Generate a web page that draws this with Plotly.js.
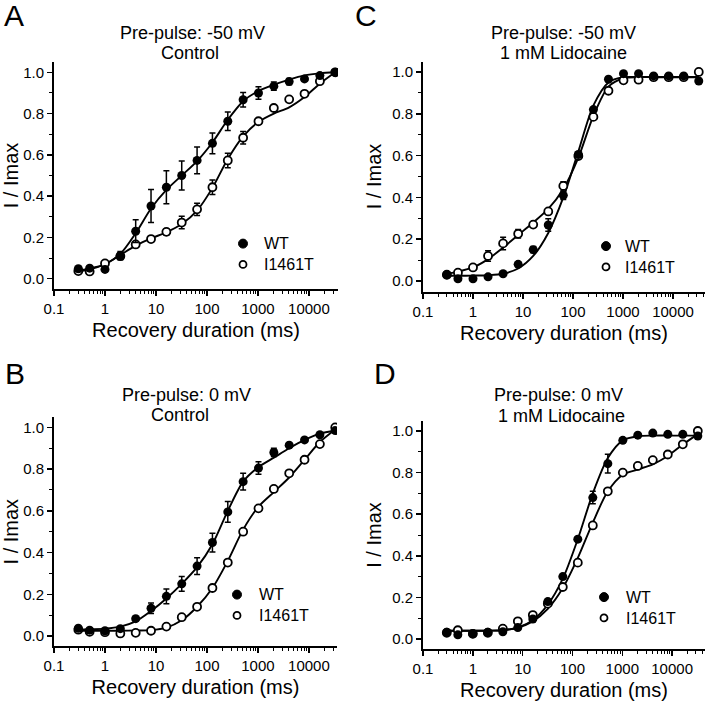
<!DOCTYPE html>
<html>
<head>
<meta charset="utf-8">
<script src="https://cdn.plot.ly/plotly-3.0.1.min.js"></script>
<style>
  html, body { margin: 0; padding: 0; background: #fff; }
  #chart { width: 709px; height: 702px; }
</style>
</head>
<body>
<div id="chart"></div>
<script>
// recovery durations (ms), same for every panel
var durations = [0.3, 0.5, 1, 2, 4, 8, 16, 32, 64, 128, 256, 512, 1024, 2048, 4096, 8192, 16384, 32768];

// A: pre-pulse -50 mV, control
var aWT      = [0.048, 0.051, 0.045, 0.112, 0.23, 0.352, 0.443, 0.50, 0.573, 0.656, 0.763, 0.867, 0.90, 0.933, 0.955, 0.968, 0.984, 1.0];
var aWTerr   = [0, 0, 0.01, 0.02, 0.055, 0.08, 0.08, 0.07, 0.065, 0.05, 0.045, 0.035, 0.03, 0.02, 0.015, 0.01, 0, 0];
var aMut     = [0.037, 0.035, 0.074, 0.109, 0.166, 0.192, 0.227, 0.272, 0.336, 0.443, 0.573, 0.683, 0.763, 0.827, 0.869, 0.896, 0.957, 1.0];
var aMuterr  = [0, 0, 0, 0.015, 0.01, 0.015, 0.015, 0.03, 0.03, 0.035, 0.035, 0.03, 0.012, 0, 0, 0, 0, 0];
var aWTfit   = [0.04, 0.05, 0.07, 0.12, 0.22, 0.34, 0.43, 0.50, 0.57, 0.66, 0.77, 0.86, 0.91, 0.94, 0.965, 0.985, 0.995, 1.0];
var aMutfit  = [0.035, 0.045, 0.07, 0.115, 0.16, 0.195, 0.225, 0.265, 0.33, 0.44, 0.58, 0.69, 0.76, 0.80, 0.83, 0.88, 0.945, 1.0];

// C: pre-pulse -50 mV, 1 mM lidocaine
var cWT      = [0.03, 0.011, 0.011, 0.02, 0.035, 0.08, 0.15, 0.268, 0.41, 0.605, 0.82, 0.965, 0.992, 0.992, 0.981, 0.981, 0.981, 0.957];
var cWTerr   = [0, 0, 0, 0, 0, 0, 0.015, 0.03, 0.02, 0.01, 0.01, 0, 0, 0, 0, 0, 0, 0];
var cMut     = [0.03, 0.04, 0.065, 0.12, 0.18, 0.226, 0.27, 0.333, 0.455, 0.598, 0.785, 0.91, 0.96, 0.963, 0.975, 0.975, 0.975, 1.0];
var cMuterr  = [0, 0, 0, 0.025, 0.03, 0.02, 0.01, 0.01, 0.02, 0.01, 0.01, 0, 0, 0, 0, 0, 0, 0];
var cWTfit   = [0.025, 0.025, 0.026, 0.028, 0.035, 0.06, 0.12, 0.23, 0.40, 0.62, 0.84, 0.95, 0.975, 0.976, 0.976, 0.976, 0.976, 0.976];
var cMutfit  = [0.035, 0.045, 0.065, 0.105, 0.16, 0.22, 0.28, 0.345, 0.44, 0.59, 0.79, 0.93, 0.97, 0.975, 0.975, 0.975, 0.975, 0.975];

// B: pre-pulse 0 mV, control
var bWT      = [0.037, 0.028, 0.025, 0.035, 0.083, 0.133, 0.19, 0.25, 0.335, 0.448, 0.595, 0.74, 0.805, 0.88, 0.915, 0.94, 0.965, 0.985];
var bWTerr   = [0, 0, 0, 0, 0.01, 0.025, 0.035, 0.035, 0.04, 0.045, 0.05, 0.04, 0.03, 0.02, 0.01, 0.01, 0, 0];
var bMut     = [0.03, 0.02, 0.018, 0.012, 0.015, 0.025, 0.045, 0.09, 0.14, 0.23, 0.352, 0.50, 0.612, 0.705, 0.78, 0.845, 0.92, 1.0];
var bMuterr  = [0, 0, 0, 0, 0, 0, 0, 0, 0, 0, 0.01, 0.01, 0.01, 0, 0, 0, 0, 0];
var bWTfit   = [0.03, 0.032, 0.035, 0.045, 0.07, 0.12, 0.18, 0.25, 0.33, 0.44, 0.60, 0.74, 0.81, 0.855, 0.90, 0.94, 0.97, 0.985];
var bMutfit  = [0.025, 0.025, 0.025, 0.025, 0.026, 0.028, 0.04, 0.075, 0.14, 0.23, 0.36, 0.51, 0.62, 0.69, 0.76, 0.845, 0.93, 0.99];

// D: pre-pulse 0 mV, 1 mM lidocaine
var dWT      = [0.032, 0.02, 0.025, 0.032, 0.035, 0.055, 0.096, 0.18, 0.30, 0.48, 0.68, 0.843, 0.955, 0.98, 0.99, 0.984, 0.984, 0.976];
var dWTerr   = [0, 0, 0, 0, 0, 0, 0, 0.01, 0.01, 0.01, 0.03, 0.045, 0, 0, 0, 0, 0, 0];
var dMut     = [0.03, 0.042, 0.025, 0.03, 0.05, 0.085, 0.115, 0.17, 0.25, 0.367, 0.546, 0.71, 0.80, 0.832, 0.86, 0.887, 0.936, 1.0];
var dMuterr  = [0, 0, 0, 0, 0, 0, 0, 0, 0, 0, 0, 0, 0, 0, 0, 0, 0, 0];
var dWTfit   = [0.04, 0.04, 0.04, 0.04, 0.042, 0.055, 0.09, 0.165, 0.29, 0.48, 0.70, 0.87, 0.955, 0.975, 0.978, 0.978, 0.978, 0.978];
var dMutfit  = [0.04, 0.04, 0.04, 0.04, 0.042, 0.055, 0.085, 0.145, 0.245, 0.39, 0.56, 0.71, 0.79, 0.815, 0.84, 0.88, 0.935, 0.985];

var xTickVals = [0.1, 1, 10, 100, 1000, 10000];
var xTickText = ['0.1', '1', '10', '100', '1000', '10000'];
var seriesNames = ['WT', 'I1461T'];
var panelLetters = ['A', 'C', 'B', 'D'];
var titleLine1 = ['Pre-pulse: -50 mV', 'Pre-pulse: -50 mV', 'Pre-pulse: 0 mV', 'Pre-pulse: 0 mV'];
var titleLine2 = ['Control', '1 mM Lidocaine', 'Control', '1 mM Lidocaine'];

var panels = [
  {wt: aWT, wtErr: aWTerr, mut: aMut, mutErr: aMuterr, wtFit: aWTfit, mutFit: aMutfit},
  {wt: cWT, wtErr: cWTerr, mut: cMut, mutErr: cMuterr, wtFit: cWTfit, mutFit: cMutfit},
  {wt: bWT, wtErr: bWTerr, mut: bMut, mutErr: bMuterr, wtFit: bWTfit, mutFit: bMutfit},
  {wt: dWT, wtErr: dWTerr, mut: dMut, mutErr: dMuterr, wtFit: dWTfit, mutFit: dMutfit}
];

var W = 709, H = 702;
function px(x) { return x / W; }
function py(y) { return 1 - y / H; }

// pixel boxes of the four plot areas: [left, right, top, bottom]
var boxes = [[54, 338, 62, 289], [423, 705, 61.5, 291.5], [54, 337, 417, 646.4], [423, 705, 420.6, 649.4]];
var xMax = [4.57, 4.64, 4.55, 4.66];
// legend: [symbol x, text x, middle y]
var legendPos = [[243, 262, 254], [606, 623, 256.5], [237, 257, 605], [604, 624, 607.5]];
var legendSize = 16;
var rowGap = legendSize * 1.3;
var letterPos = [[14, 15], [366, 16], [15, 374], [385, 374]];
var title1Pos = [[192, 33], [563, 33], [186, 395], [558, 395]];
var title2Pos = [[190, 53], [563, 53], [180, 415], [561, 416]];

var font = 'Liberation Sans, Arial, sans-serif';
var traces = [];
var layout = {
  width: W, height: H,
  margin: {l: 0, r: 0, t: 0, b: 0},
  paper_bgcolor: '#fff', plot_bgcolor: '#fff',
  font: {family: font, color: '#000', size: 15},
  showlegend: false,
  annotations: [],
  shapes: []
};

function note(text, x, y, size, anchor) {
  return {text: text, x: px(x), y: py(y), xref: 'paper', yref: 'paper', showarrow: false,
          xanchor: anchor || 'center', yanchor: 'middle', align: 'left', font: {size: size}};
}

panels.forEach(function (p, i) {
  var n = i === 0 ? '' : String(i + 1);
  var xa = 'x' + n, ya = 'y' + n;
  var fitLine = {color: '#000', width: 1.9, shape: 'spline', smoothing: 0.8};

  traces.push({x: durations, y: p.mutFit, xaxis: xa, yaxis: ya, mode: 'lines', line: fitLine, hoverinfo: 'skip'});
  traces.push({x: durations, y: p.wtFit, xaxis: xa, yaxis: ya, mode: 'lines', line: fitLine, hoverinfo: 'skip'});
  traces.push({
    x: durations, y: p.mut, xaxis: xa, yaxis: ya, mode: 'markers', name: seriesNames[1],
    marker: {symbol: 'circle', size: 8, color: '#fff', line: {color: '#000', width: 1.8}},
    error_y: {type: 'data', array: p.mutErr, visible: true, color: '#000', thickness: 1.5, width: 3}
  });
  traces.push({
    x: durations, y: p.wt, xaxis: xa, yaxis: ya, mode: 'markers', name: seriesNames[0],
    marker: {symbol: 'circle', size: 9, color: '#000'},
    error_y: {type: 'data', array: p.wtErr, visible: true, color: '#000', thickness: 1.5, width: 3}
  });

  var b = boxes[i];
  layout['xaxis' + n] = {
    type: 'log', range: [-1, xMax[i]], domain: [px(b[0]), px(b[1])], anchor: ya,
    tickvals: xTickVals, ticktext: xTickText,
    showline: true, linewidth: 2, linecolor: '#000', mirror: false,
    ticks: 'outside', ticklen: 5, tickwidth: 1.5, tickcolor: '#000',
    minor: {ticks: 'outside', ticklen: 3, tickwidth: 1, tickcolor: '#000', dtick: 'D1', showgrid: false},
    showgrid: false, zeroline: false, tickfont: {size: 15},
    title: {text: 'Recovery duration (ms)', font: {size: 20}, standoff: 7}
  };
  layout['yaxis' + n] = {
    range: [-0.05, 1.05], domain: [py(b[3]), py(b[2])], anchor: xa,
    tickvals: [0, 0.2, 0.4, 0.6, 0.8, 1.0], tickformat: '.1f',
    showline: true, linewidth: 2, linecolor: '#000',
    ticks: 'outside', ticklen: 5, tickwidth: 1.5, tickcolor: '#000',
    minor: {ticks: 'outside', ticklen: 3, tickwidth: 1, tickcolor: '#000', dtick: 0.1, showgrid: false},
    showgrid: false, zeroline: false, tickfont: {size: 15},
    title: {text: 'I / Imax', font: {size: 20}, standoff: 5}
  };

  // legend keys: one two-line label with a filled and an open circle beside it
  var lp = legendPos[i];
  var r1 = lp[2] - rowGap / 2, r2 = lp[2] + rowGap / 2;
  layout.shapes.push({type: 'circle', xref: 'paper', yref: 'paper', fillcolor: '#000', line: {color: '#000', width: 1},
    x0: px(lp[0] - 4.5), x1: px(lp[0] + 4.5), y0: py(r1 + 4.5), y1: py(r1 - 4.5)});
  layout.shapes.push({type: 'circle', xref: 'paper', yref: 'paper', fillcolor: '#fff', line: {color: '#000', width: 1.8},
    x0: px(lp[0] - 3.5), x1: px(lp[0] + 3.5), y0: py(r2 + 3.5), y1: py(r2 - 3.5)});
  layout.annotations.push(note(seriesNames.join('<br>'), lp[1], lp[2], legendSize, 'left'));

  layout.annotations.push(note(panelLetters[i], letterPos[i][0], letterPos[i][1], 30));
  layout.annotations.push(note(titleLine1[i], title1Pos[i][0], title1Pos[i][1], 18));
  layout.annotations.push(note(titleLine2[i], title2Pos[i][0], title2Pos[i][1], 18));
});

Plotly.newPlot('chart', traces, layout, {displayModeBar: false, staticPlot: true});
</script>
</body>
</html>
